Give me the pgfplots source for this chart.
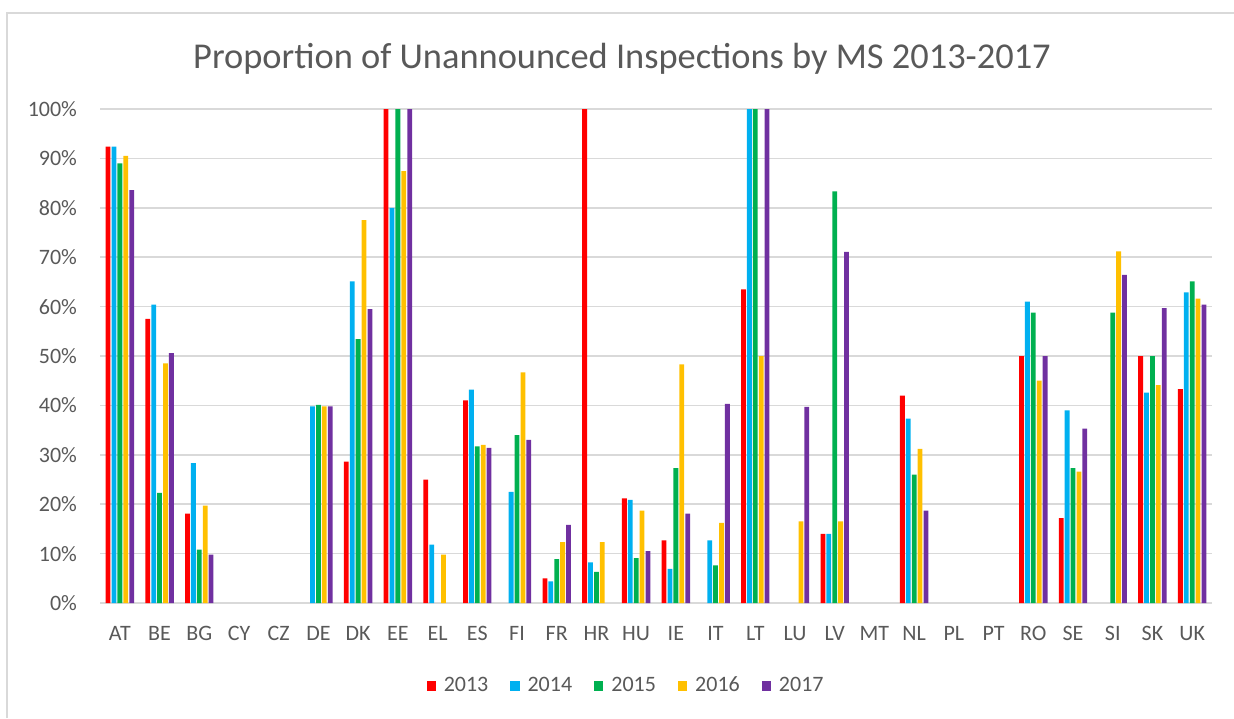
\documentclass[border=0pt]{standalone}
\usepackage{pgfplots}
\pgfplotsset{compat=1.18}
\usepackage{fontspec}
\setmainfont{Carlito}
\definecolor{c13}{HTML}{FF0000}
\definecolor{c14}{HTML}{00B0F0}
\definecolor{c15}{HTML}{00B050}
\definecolor{c16}{HTML}{FFC000}
\definecolor{c17}{HTML}{7030A0}
\definecolor{txtgray}{HTML}{595959}
\definecolor{gridgray}{HTML}{D9D9D9}
\begin{document}
\begin{tikzpicture}[x=1pt,y=1pt]
\useasboundingbox (0,0) rectangle (617,359);
\draw[gridgray, line width=1pt] (3.5,0) -- (3.5,352.5) -- (617,352.5);
\node[txtgray, font=\fontsize{18.2}{21}\selectfont] at (311,329.5) {Proportion of Unannounced Inspections by MS 2013-2017};
\begin{axis}[
  at={(50pt,57.5pt)}, anchor=south west,
  scale only axis, width=556pt, height=247pt,
  ybar=0.55pt, bar width=2.4pt,
  xmin=-0.5, xmax=27.5, ymin=0, ymax=100,
  xtick={0,...,27},
  xticklabels={AT,BE,BG,CY,CZ,DE,DK,EE,EL,ES,FI,FR,HR,HU,IE,IT,LT,LU,LV,MT,NL,PL,PT,RO,SE,SI,SK,UK},
  ytick={0,10,...,100},
  yticklabels={0\%,10\%,20\%,30\%,40\%,50\%,60\%,70\%,80\%,90\%,100\%},
  major tick length=0pt,
  axis line style={draw=none},
  ymajorgrids, grid style={gridgray, line width=0.8pt},
  tick label style={txtgray, font=\fontsize{11}{13}\selectfont},
  xticklabel style={yshift=-8pt},
  yticklabel style={xshift=-8pt},
  legend columns=5,
  legend style={draw=none, at={(0.474,-0.168)}, anchor=center, font=\fontsize{11}{13}\selectfont, text=txtgray,
    /tikz/every odd column/.append style={column sep=2pt},
    /tikz/every even column/.append style={column sep=9pt}},
  legend image code/.code={\fill[#1] (0pt,-2.3pt) rectangle (4.6pt,2.3pt);},
]
\addplot[fill=c13, draw=none] coordinates {(0,92.4)(1,57.5)(2,18.1)(6,28.6)(7,100)(8,25)(9,41)(11,5)(12,100)(13,21.2)(14,12.7)(16,63.5)(18,14)(20,42)(23,50)(24,17.2)(26,50)(27,43.3)};
\addplot[fill=c14, draw=none] coordinates {(0,92.4)(1,60.4)(2,28.3)(5,39.8)(6,65.1)(7,80)(8,11.8)(9,43.2)(10,22.5)(11,4.4)(12,8.2)(13,20.9)(14,6.9)(15,12.7)(16,100)(18,14)(20,37.3)(23,61)(24,39)(26,42.6)(27,62.9)};
\addplot[fill=c15, draw=none] coordinates {(0,89)(1,22.3)(2,10.8)(5,40.1)(6,53.4)(7,100)(9,31.7)(10,34)(11,8.9)(12,6.3)(13,9.1)(14,27.3)(15,7.6)(16,100)(18,83.3)(20,26)(23,58.8)(24,27.3)(25,58.8)(26,50)(27,65.1)};
\addplot[fill=c16, draw=none] coordinates {(0,90.5)(1,48.5)(2,19.7)(5,39.8)(6,77.5)(7,87.4)(8,9.8)(9,32)(10,46.7)(11,12.3)(12,12.3)(13,18.7)(14,48.3)(15,16.2)(16,50)(17,16.5)(18,16.5)(20,31.2)(23,45)(24,26.6)(25,71.2)(26,44.1)(27,61.6)};
\addplot[fill=c17, draw=none] coordinates {(0,83.6)(1,50.6)(2,9.8)(5,39.8)(6,59.5)(7,100)(9,31.4)(10,33)(11,15.8)(13,10.5)(14,18.1)(15,40.3)(16,100)(17,39.7)(18,71.1)(20,18.7)(23,50)(24,35.3)(25,66.4)(26,59.7)(27,60.4)};
\legend{2013,2014,2015,2016,2017}
\end{axis}
\end{tikzpicture}
\end{document}
